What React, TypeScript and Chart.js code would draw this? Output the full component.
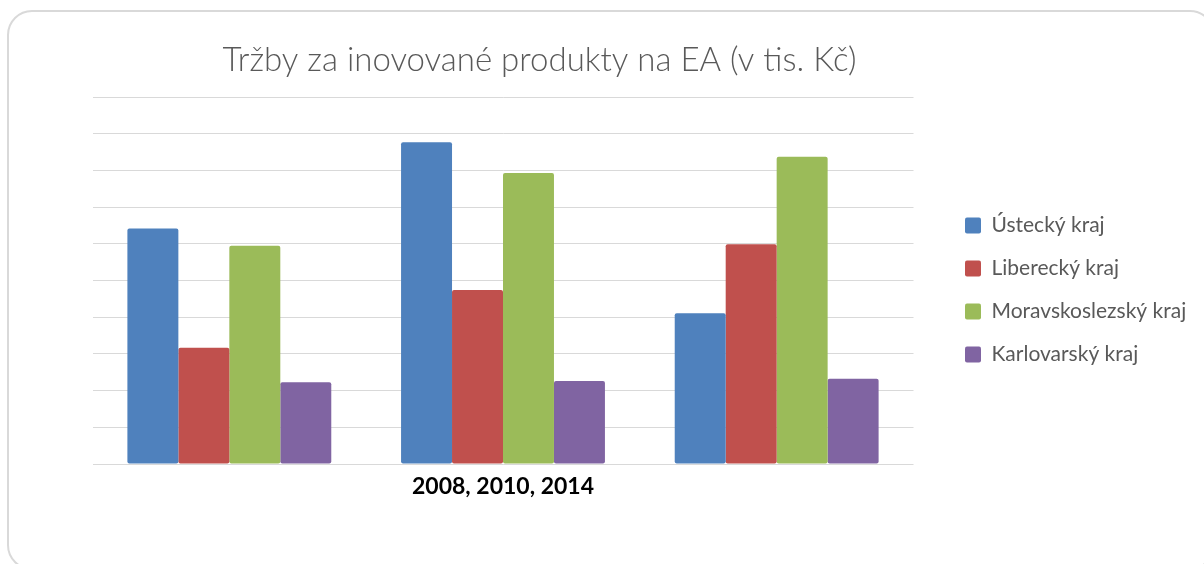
import React, { useEffect, useRef } from "react";
import { Chart, registerables } from "chart.js";

Chart.register(...registerables);

const TITLE = "Tržby za inovované produkty na EA (v tis. Kč)";
const X_TITLE = "2008, 2010, 2014";
const CATEGORIES = ["2008", "2010", "2014"];
const SERIES_NAMES = ["Ústecký kraj", "Liberecký kraj", "Moravskoslezský kraj", "Karlovarský kraj"];
const USTECKY = [6.42, 8.77, 4.11];
const LIBERECKY = [3.17, 4.74, 5.99];
const MORAVSKOSLEZSKY = [5.95, 7.93, 8.37];
const KARLOVARSKY = [2.23, 2.26, 2.32];
const Y_MIN = 0;
const Y_MAX = 10;
const Y_STEP = 1;

const COLORS = ["#4F81BD", "#C0504D", "#9BBB59", "#8064A2"];
const SERIES = [USTECKY, LIBERECKY, MORAVSKOSLEZSKY, KARLOVARSKY];

const CANVAS_LEFT = -114.5;
const CANVAS_W = 1327;
const CANVAS_H = 580;

export default function App() {
  const ref = useRef<HTMLCanvasElement | null>(null);

  useEffect(() => {
    if (!ref.current) return;
    Chart.defaults.font.family = "Lato";
    const chart = new Chart(ref.current, {
      type: "bar",
      data: {
        labels: CATEGORIES,
        datasets: SERIES.map((values, i) => ({
          label: SERIES_NAMES[i],
          data: values,
          backgroundColor: COLORS[i],
          borderColor: COLORS[i],
          borderWidth: 0,
          borderRadius: 2,
          borderSkipped: false,
          categoryPercentage: 0.745,
          barPercentage: 1.0,
          yAxisID: "y",
        })),
      },
      options: {
        animation: false,
        responsive: false,
        maintainAspectRatio: false,
        events: [],
        layout: { padding: { left: 0, right: 20, top: 0, bottom: 0 } },
        plugins: {
          tooltip: { enabled: false },
          title: {
            display: true,
            text: TITLE,
            color: "#595959",
            font: { family: "Lato", size: 33, weight: "300" },
            padding: { top: 40.9, bottom: 16.5 },
          },
          legend: {
            display: true,
            position: "right",
            align: "center",
            maxWidth: 250,
            labels: {
              color: "#595959",
              font: { family: "Lato", size: 21 },
              boxWidth: 16,
              boxHeight: 16,
              padding: 22,
              useBorderRadius: true,
              borderRadius: 2,
            },
          },
        },
        scales: {
          x: {
            type: "category",
            grid: { display: false, drawTicks: false },
            border: { display: false },
            ticks: { display: false },
            title: {
              display: true,
              text: X_TITLE,
              color: "#000000",
              font: { family: "Lato", size: 23, weight: "bold" },
              padding: { top: 8.6, bottom: 79.8 },
            },
          },
          y: {
            type: "linear",
            position: "left",
            min: Y_MIN,
            max: Y_MAX,
            ticks: { display: false, stepSize: Y_STEP },
            grid: { color: "#d9d9d9", lineWidth: 1, drawTicks: false },
            border: { display: false },
            afterFit: (s: any) => {
              s.width = 206.5;
            },
          },
          y2: {
            type: "linear",
            position: "right",
            ticks: { display: false },
            grid: { display: false, drawTicks: false },
            border: { display: false },
            afterFit: (s: any) => {
              s.width = 29.5;
            },
          },
        },
      },
    });
    return () => chart.destroy();
  }, []);

  return (
    <div
      style={{
        position: "absolute",
        left: 0,
        top: 0,
        width: 1204,
        height: 564,
        overflow: "hidden",
        background: "#ffffff",
      }}
    >
      <div
        style={{
          position: "absolute",
          left: 7,
          top: 10,
          width: 1208,
          height: 560,
          border: "2px solid #d9d9d9",
          borderRadius: 25,
          boxSizing: "border-box",
        }}
      />
      <div style={{ position: "absolute", left: CANVAS_LEFT, top: 0, width: CANVAS_W, height: CANVAS_H }}>
        <canvas ref={ref} width={CANVAS_W} height={CANVAS_H} style={{ width: CANVAS_W, height: CANVAS_H }} />
      </div>
    </div>
  );
}
